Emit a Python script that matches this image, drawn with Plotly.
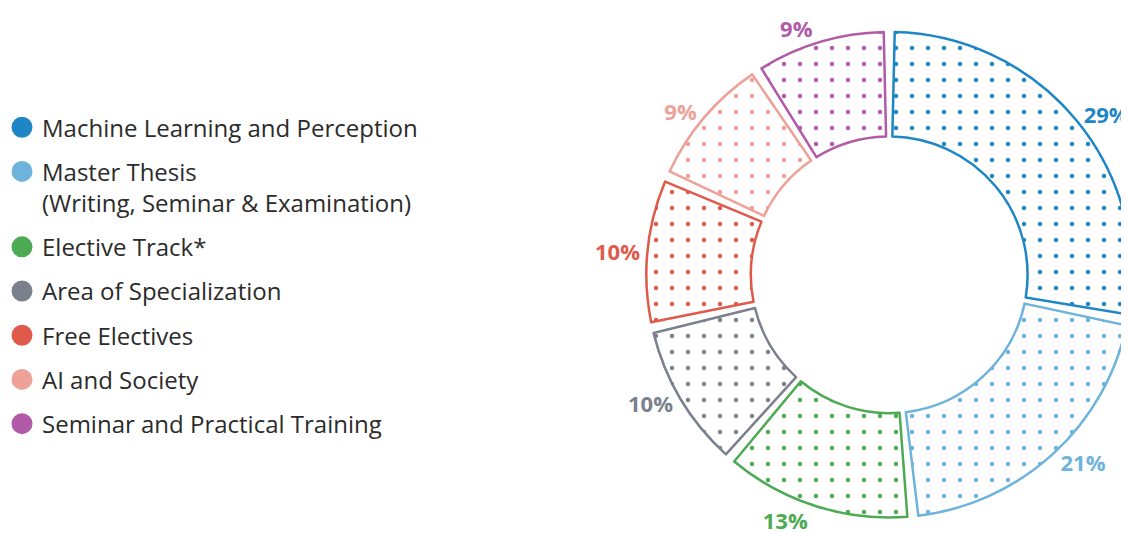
import plotly.graph_objects as go

categories = [
    "Machine Learning and Perception",
    "Master Thesis<br>(Writing, Seminar & Examination)",
    "Elective Track*",
    "Area of Specialization",
    "Free Electives",
    "AI and Society",
    "Seminar and Practical Training",
]
values = [29, 21, 13, 10, 10, 9, 9]
colors = ["#1f86c6", "#6db3dc", "#4cab52", "#7a808c", "#e05a4b", "#eda197", "#b05aa8"]
pct_labels = [f"{v}%" for v in values]

FONT = "Open Sans"
gap_deg = 2.6
g = gap_deg * sum(values) / (360 - len(values) * gap_deg)

pv, mc, shp, fg, lc, lw, txt, tc = [], [], [], [], [], [], [], []


def add_gap(val):
    pv.append(val); mc.append("rgba(0,0,0,0)"); shp.append(""); fg.append("rgba(0,0,0,0)")
    lc.append("rgba(0,0,0,0)"); lw.append(0); txt.append(""); tc.append("rgba(0,0,0,0)")


add_gap(g / 2)
for i, (v, c, t) in enumerate(zip(values, colors, pct_labels)):
    pv.append(v); mc.append("white"); shp.append("."); fg.append(c)
    lc.append(c); lw.append(2.5); txt.append(t); tc.append(c)
    if i < len(values) - 1:
        add_gap(g)
add_gap(g / 2)

fig = go.Figure()
fig.add_trace(go.Pie(
    values=pv,
    sort=False,
    direction="clockwise",
    rotation=0,
    hole=0.57,
    text=txt,
    textinfo="text",
    textposition="outside",
    textfont=dict(family=FONT, size=22, color=tc, weight="bold"),
    marker=dict(
        colors=mc,
        line=dict(color=lc, width=lw),
        pattern=dict(shape=shp, fgcolor=fg, bgcolor="white", size=16, solidity=0.06, fillmode="replace"),
    ),
    hoverinfo="skip",
    showlegend=False,
    domain=dict(x=[0.568, 1.0], y=[0.045, 0.975]),
))

for i, (name, c) in enumerate(zip(categories, colors)):
    fig.add_trace(go.Scatter(
        x=[None], y=[None], mode="markers", name=name,
        marker=dict(symbol="circle", size=16, color=c, line=dict(color=c, width=5)),
        legendgroup=f"g{i}", showlegend=True,
    ))

fig.update_layout(
    width=1129, height=533,
    margin=dict(l=0, r=0, t=0, b=0),
    paper_bgcolor="white", plot_bgcolor="white",
    xaxis=dict(visible=False), yaxis=dict(visible=False),
    legend=dict(
        x=0.0, y=0.835, xanchor="left", yanchor="top",
        font=dict(family=FONT, size=24, color="#2b2b2b"),
        tracegroupgap=10, valign="top", itemwidth=30, indentation=-6,
        bgcolor="rgba(0,0,0,0)",
    ),
    font=dict(family=FONT),
)

fig.write_html("out.html")
